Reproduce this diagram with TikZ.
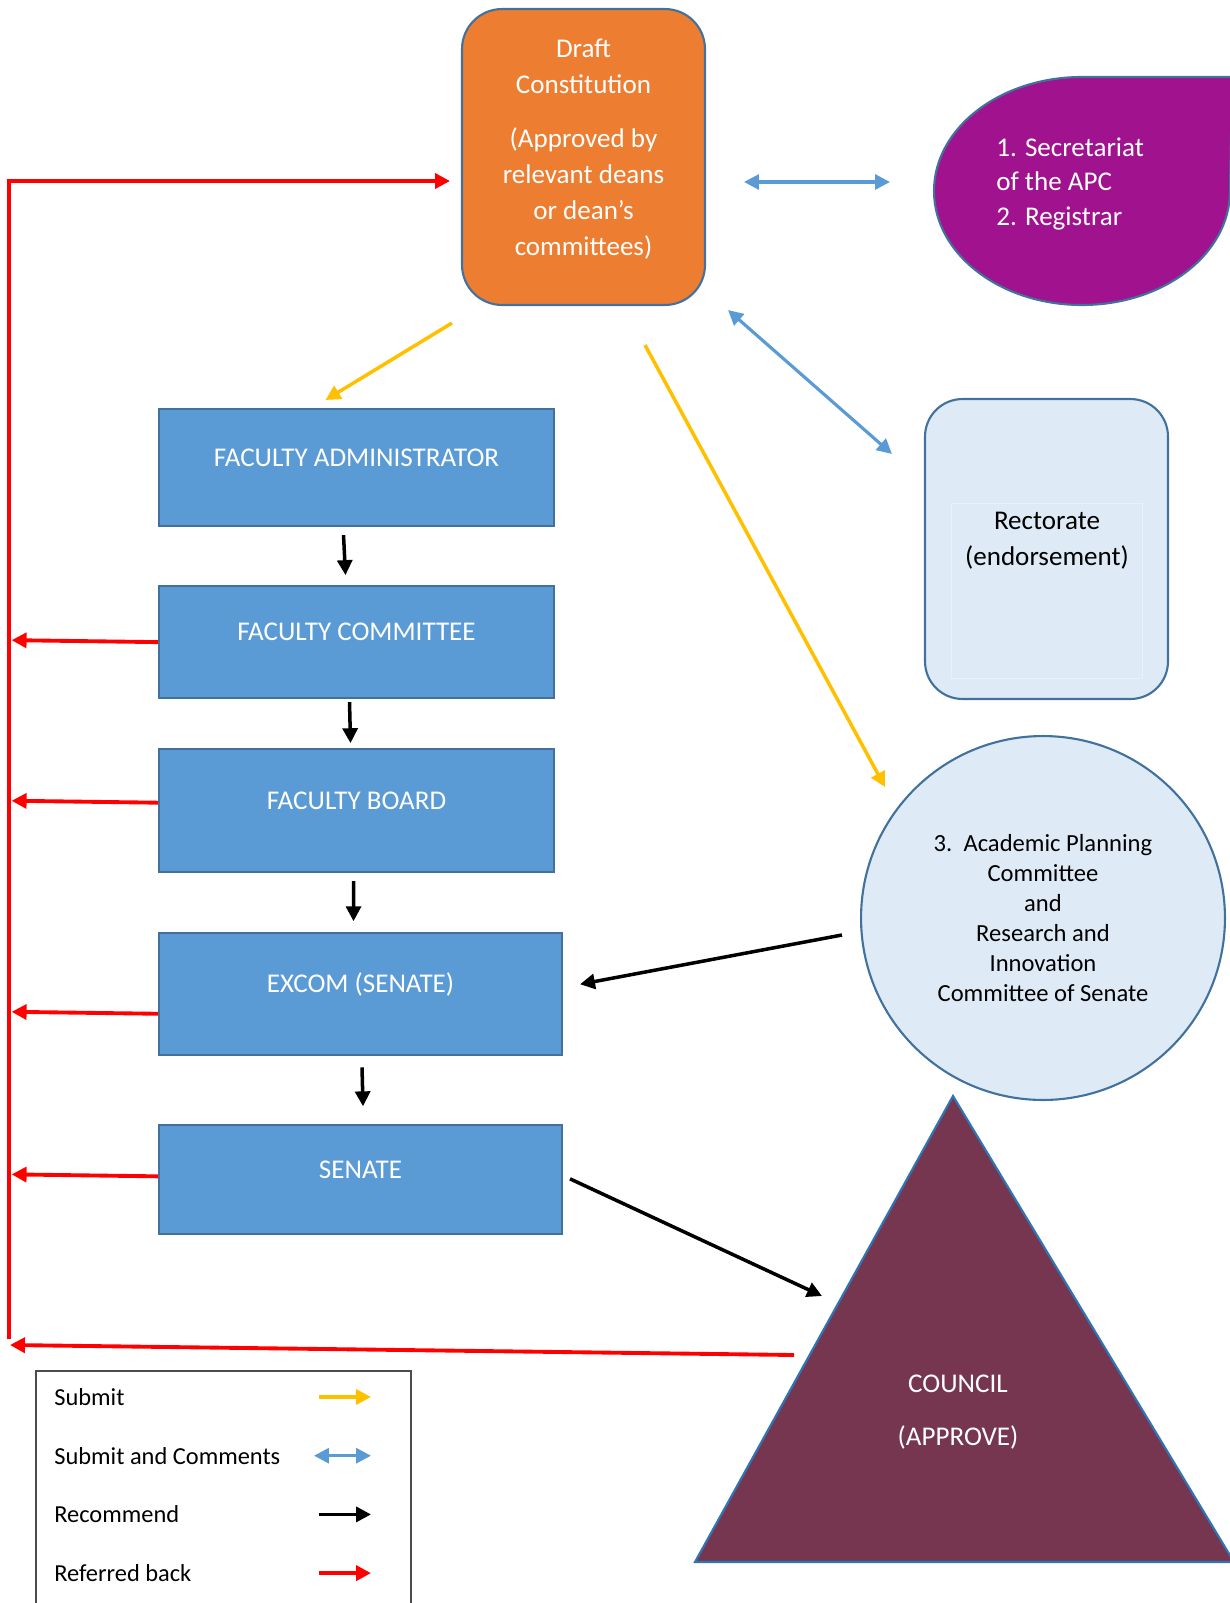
\documentclass[tikz,border=0pt]{standalone}
\usepackage{fontspec}
\setmainfont{Carlito}
\usetikzlibrary{arrows.meta,positioning,calc}
\definecolor{draftor}{HTML}{ED7D31}
\definecolor{edgeblue}{HTML}{41719C}
\definecolor{facblue}{HTML}{5B9BD5}
\definecolor{secpurple}{HTML}{A1128F}
\definecolor{paleblue}{HTML}{DEEBF7}
\definecolor{councilred}{HTML}{773650}
\definecolor{triedge}{HTML}{2E75B6}
\definecolor{submitcol}{HTML}{FFC000}
\tikzset{
  shp/.style={draw=edgeblue,line width=1.2pt},
  fac/.style={shp,fill=facblue,text=white,minimum width=7.9cm,inner sep=0pt,
    text height=10pt,text depth=11.7pt,font=\fontsize{15.4}{18}\selectfont},
  wtxt/.style={text=white,align=center,inner sep=0pt,font=\fontsize{15.4}{20.4}\selectfont},
  subm/.style={-{Triangle[length=8.5pt,width=8.5pt]},line width=2pt,draw=submitcol},
  cmnt/.style={{Triangle[length=8.5pt,width=8.5pt]}-{Triangle[length=8.5pt,width=8.5pt]},
    line width=1.8pt,draw=facblue},
  rec/.style={-{Triangle[length=8.5pt,width=8.5pt]},line width=2pt,draw=black},
  back/.style={-{Triangle[length=8.5pt,width=8.5pt]},line width=2.2pt,draw=red},
  legtxt/.style={anchor=west,inner sep=0pt,font=\fontsize{13.9}{17}\selectfont},
}
\begin{document}
\begin{tikzpicture}[x=0.02cm,y=0.02cm]
  \useasboundingbox (0,0) rectangle (1230,-1603);
  \clip (0,0) rectangle (1230,-1603);

  % draft and the offices round it
  \node[shp,fill=draftor,rounded corners=0.8cm,minimum width=4.86cm,
    minimum height=5.92cm] (draft) at (583.5,-157) {};
  \node[wtxt] (drafttxt) at (583.5,-149)
    {Draft\\Constitution\\[10.8pt](Approved by\\relevant deans\\or dean’s\\committees)};

  \path[shp,fill=secpurple] (1082,-77) arc[start angle=90,end angle=360,
    x radius=148,y radius=114] -- (1232,-77) -- cycle;
  \coordinate (secw) at (934,-191);
  \node[wtxt,align=left,anchor=west,font=\fontsize{15.4}{19.8}\selectfont] (sec)
    at (996,-184) {1. Secretariat\\of the APC\\2. Registrar};

  \node[shp,fill=paleblue,rounded corners=0.75cm,minimum width=4.86cm,
    minimum height=6cm] (rect) at (1046.5,-549) {};
  \draw[edgeblue!10] (951,-503) rectangle (1142,-678);
  \node[wtxt,text=black] (recttxt) at (1047,-541) {Rectorate\\(endorsement)};

  \node[shp,circle,fill=paleblue,minimum size=7.28cm,align=center,
    font=\fontsize{14}{17}\selectfont] (apc) at (1043,-918)
    {3.\ \ Academic Planning\\Committee\\and\\Research and\\Innovation\\Committee of Senate};

  \path[fill=councilred,draw=triedge,line width=1.2pt] (953,-1096) coordinate (cnapex)
    -- (1234,-1562) coordinate (cnright) -- (695,-1562) coordinate (cnleft) -- cycle;
  \coordinate (cnin) at (822,-1296);
  \coordinate (cnback) at (794,-1355);
  \node[wtxt] (council) at (958,-1412) {COUNCIL\\[10.2pt](APPROVE)};

  % faculty chain
  \node[fac,minimum height=2.34cm,anchor=north west] (fadm) at (158,-408)
    {FACULTY ADMINISTRATOR};
  \node[fac,minimum height=2.24cm,below=1.16cm of fadm.south west,anchor=north west]
    (fcom) {FACULTY COMMITTEE};
  \node[fac,minimum height=2.46cm,below=0.98cm of fcom.south west,anchor=north west]
    (fboard) {FACULTY BOARD};
  \node[fac,minimum width=8.06cm,minimum height=2.44cm,below=1.18cm of fboard.south west,
    anchor=north west] (excom) {EXCOM (SENATE)};
  \node[fac,minimum width=8.06cm,minimum height=2.18cm,below=1.36cm of excom.south west,
    anchor=north west] (senate) {SENATE};

  % submit
  \draw[subm] ([shift={(-9,-17)}]draft.south west) -- ([shift={(-31,8)}]fadm.north);
  \draw[subm] ([shift={(61.5,-39)}]draft.south) -- ([shift={(-158,131)}]apc.center);
  % submit and comments
  \draw[cmnt] ([shift={(38,-25)}]draft.east) -- ([shift={(-44,9)}]secw);
  \draw[cmnt] ([shift={(22,-4)}]draft.south east) -- ([shift={(-32,-56)}]rect.north west);
  % recommend
  \draw[rec] ([shift={(-13,-8)}]fadm.south) -- ([shift={(-11,10)}]fcom.north);
  \draw[rec] ([shift={(-7,-3)}]fcom.south) -- ([shift={(-6,5)}]fboard.north);
  \draw[rec] ([shift={(-3,-8)}]fboard.south) -- ([shift={(-7,11)}]excom.north);
  \draw[rec] ([shift={(1.5,-11)}]excom.south) -- ([shift={(2.5,18)}]senate.north);
  \draw[rec] ([shift={(-18,-17)}]apc.west) -- ([shift={(17,10)}]excom.east);
  \draw[rec] ([shift={(7,1)}]senate.east) -- (cnin);
  % referred back
  \coordinate (railtop) at (9,-181);
  \coordinate (railbot) at (9,-1339);
  \draw[back] (railbot) -- (railtop) -- ([shift={(-11,-24)}]draft.west);
  \foreach \n/\dy in {fcom/0,fboard/8,excom/-19.5,senate/3.5}
    \draw[back,shorten >=1.5pt] ([shift={(0,\dy)}]\n.west)
      -- ($(\n.west -| railtop)+(0,{\dy+2})$);
  \draw[back] (cnback) -- ([shift={(1,-6)}]railbot);

  % legend
  \draw[black!70,line width=0.7pt] (36,-1625) |- (411,-1371) -- (411,-1625);
  \foreach \txt/\sty/\xa [count=\i from 0] in
      {Submit/subm/319, Submit and Comments/cmnt/314, Recommend/rec/319, Referred back/back/319}{
    \node[legtxt] (leg\i) at (54,{-1397-58.7*\i}) {\txt};
    \coordinate (lega\i) at (\xa,{-1397-58.7*\i});
    \coordinate (legb\i) at (371,{-1397-58.7*\i});
    \draw[\sty] (lega\i) -- (legb\i);
  }
\end{tikzpicture}
\end{document}
